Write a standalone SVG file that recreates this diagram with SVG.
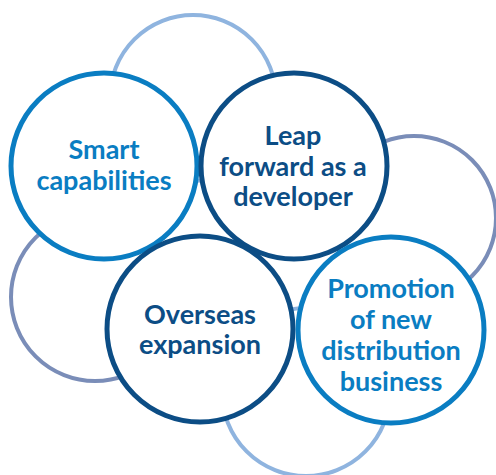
<svg xmlns="http://www.w3.org/2000/svg" width="496" height="475" viewBox="0 0 496 475">
<style>
.bg{fill:#fff;stroke-width:4}
.lb{stroke:#8fb4df}
.gb{stroke:#7a8db8}
.main{fill:#fff;stroke-width:5}
.bright{stroke:#0a7dc2}
.navy{stroke:#0c4d85}
text{font-family:Lato,"Noto Sans","Liberation Sans",sans-serif;font-weight:bold;font-size:27px;text-anchor:middle}
.tb{fill:#0a7dc2}
.tn{fill:#0c4d85}
</style>
<rect width="496" height="475" fill="#fff"/>
<g id="background">
<circle id="bg-top" class="bg lb" cx="193" cy="98" r="83"/>
<circle id="bg-right" class="bg gb" cx="414" cy="218" r="82"/>
<circle id="bg-left" class="bg gb" cx="95" cy="297" r="84"/>
<circle id="bg-bottom" class="bg lb" cx="306" cy="392" r="84"/>
</g>
<g id="connectors"/>
<g id="smart">
<circle class="main bright" cx="104" cy="166" r="93"/>
<text class="tb" x="104" y="159">Smart</text>
<text class="tb" x="104" y="190">capabilities</text>
</g>
<g id="leap">
<circle class="main navy" cx="294" cy="166" r="93"/>
<text class="tn" x="293" y="145">Leap</text>
<text class="tn" x="293" y="176">forward as a</text>
<text class="tn" x="293" y="206">developer</text>
</g>
<g id="overseas">
<circle class="main navy" cx="200" cy="329" r="93"/>
<text class="tn" x="200" y="324">Overseas</text>
<text class="tn" x="200" y="354">expansion</text>
</g>
<g id="promotion">
<circle class="main bright" cx="391" cy="330" r="93"/>
<text class="tb" x="391" y="298">Promotion</text>
<text class="tb" x="391" y="329">of new</text>
<text class="tb" x="391" y="360">distribution</text>
<text class="tb" x="391" y="391">business</text>
</g>
</svg>
